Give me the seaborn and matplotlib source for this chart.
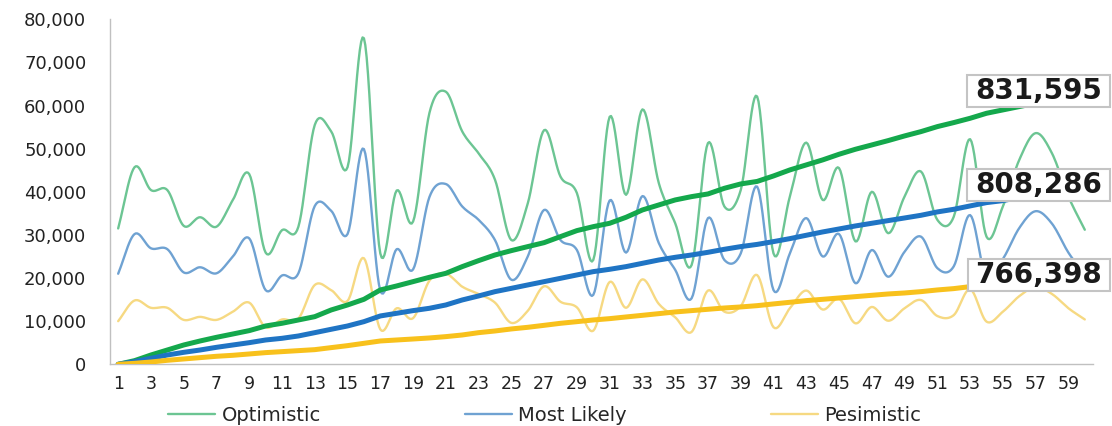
import numpy as np
import pandas as pd
import seaborn as sns
import matplotlib.pyplot as plt
from matplotlib.patches import Rectangle
from matplotlib.transforms import IdentityTransform
from matplotlib.ticker import FuncFormatter, FixedLocator

# Данные
periods = list(range(1, 61))

optimistic = [31500, 45700, 40400, 40400, 32100, 34100, 31900, 38100, 44100, 25900,
              31100, 31900, 55500, 54000, 45700, 75600, 25700, 40300, 33100, 58300,
              63200, 54000, 48900, 42800, 28800, 37300, 54300, 43500, 39700, 24200,
              57400, 39300, 59100, 42000, 32700, 23000, 51300, 36600, 40400, 62100,
              25700, 38900, 51400, 38100, 45500, 28500, 40000, 30400, 38900, 44700,
              33500, 34200, 52200, 29600, 36600, 47400, 53600, 48900, 38900, 31200]

most_likely = [21000, 30200, 26900, 26700, 21300, 22500, 21100, 25000, 29200, 17200,
               20600, 21100, 36700, 35600, 30200, 49900, 17100, 26700, 22000, 38800,
               41800, 36600, 33500, 28800, 19600, 25000, 35800, 28800, 26500, 16100,
               38000, 25900, 39000, 28100, 21900, 15300, 33900, 24200, 25700, 41200,
               17200, 25700, 33900, 25000, 30200, 18800, 26500, 20300, 26100, 29600,
               22300, 22700, 34600, 19900, 24400, 31600, 35500, 32600, 25900, 20800]

pesimistic = [10000, 14800, 13100, 13100, 10300, 11000, 10300, 12200, 14300, 8600,
              10400, 10600, 18400, 17200, 14700, 24600, 8100, 13000, 10700, 19400,
              21000, 18000, 16300, 14300, 9600, 12400, 18100, 14500, 13200, 7800,
              19100, 13100, 19700, 14000, 10900, 7500, 17100, 12200, 13500, 20700,
              8600, 13000, 17100, 12700, 15200, 9500, 13300, 10100, 13000, 14900,
              11200, 11400, 17400, 9900, 12200, 15800, 17900, 16300, 13000, 10400]

optimistic_trend = [0, 850, 2160, 3320, 4480, 5410, 6260, 7030, 7810, 8890,
                    9510, 10280, 11050, 12600, 13760, 15070, 17240, 18170, 19170, 20180,
                    21100, 22650, 24040, 25350, 26360, 27290, 28210, 29610, 31000, 31920,
                    32700, 34090, 35790, 36950, 38110, 38880, 39500, 40810, 41820, 42400,
                    43670, 45070, 46230, 47390, 48700, 49860, 50860, 51870, 52950, 53950,
                    55110, 56040, 57040, 58200, 58980, 59750, 60530, 61500, 62400, 63300]

most_likely_trend = [0, 620, 1390, 2160, 2780, 3320, 3940, 4480, 5020, 5640,
                     6030, 6570, 7340, 8120, 8890, 9890, 11210, 11830, 12450, 12990,
                     13760, 14920, 15850, 16850, 17620, 18400, 19170, 19940, 20720, 21490,
                     22030, 22650, 23420, 24190, 24810, 25350, 25970, 26670, 27290, 27800,
                     28450, 29140, 29920, 30690, 31380, 32080, 32700, 33320, 33930, 34550,
                     35330, 35940, 36720, 37490, 37950, 38700, 39400, 40100, 40800, 41500]

pesimistic_trend = [0, 230, 540, 930, 1240, 1550, 1860, 2090, 2400, 2710,
                    2940, 3170, 3400, 3870, 4330, 4870, 5410, 5640, 5870, 6110,
                    6420, 6800, 7340, 7730, 8200, 8580, 9040, 9510, 9890, 10280,
                    10590, 10980, 11360, 11750, 12140, 12450, 12760, 13060, 13300, 13600,
                    14000, 14380, 14770, 15070, 15380, 15690, 16000, 16310, 16540, 16850,
                    17240, 17550, 18010, 18400, 18800, 19200, 19600, 20000, 20400, 20800]

series_names = ['Optimistic', 'Most Likely', 'Pesimistic']
totals = ['831,595', '808,286', '766,398']

thin_colors = ['#6cc593', '#6fa2d2', '#f6d982']
thick_colors = ['#14a84c', '#1f74c4', '#f8c11c']


def smooth(x, y, n=12):
    # сглаживание как в Excel (Catmull-Rom) — только для отрисовки
    x = np.asarray(x, float)
    y = np.asarray(y, float)
    px = np.concatenate([[2 * x[0] - x[1]], x, [2 * x[-1] - x[-2]]])
    py = np.concatenate([[2 * y[0] - y[1]], y, [2 * y[-1] - y[-2]]])
    t = np.linspace(0, 1, n, endpoint=False)[:, None]
    xs, ys = [], []
    for arr, out in ((px, xs), (py, ys)):
        p0, p1, p2, p3 = arr[:-3], arr[1:-2], arr[2:-1], arr[3:]
        seg = 0.5 * (2 * p1 + (-p0 + p2) * t + (2 * p0 - 5 * p1 + 4 * p2 - p3) * t ** 2
                     + (-p0 + 3 * p1 - 3 * p2 + p3) * t ** 3)
        out.extend(seg.T.ravel())
        out.append(arr[-2])
    return np.array(xs), np.array(ys)


sns.set_style('white')
plt.rcParams['font.family'] = ['DejaVu Sans']

fig = plt.figure(figsize=(11.12, 4.26), dpi=100)
ax = fig.add_axes([0.0989, 0.1448, 0.884, 0.81])

# Тонкие сглаженные линии
for name, vals, col in zip(series_names, [optimistic, most_likely, pesimistic], thin_colors):
    sx, sy = smooth(periods, vals)
    sns.lineplot(x=sx, y=sy, ax=ax, color=col, linewidth=1.7, sort=False,
                 estimator=None, label=name, zorder=2)

# Толстые линии тренда
for vals, col in zip([optimistic_trend, most_likely_trend, pesimistic_trend], thick_colors):
    sns.lineplot(x=periods, y=vals, ax=ax, color=col, linewidth=3.6, sort=False,
                 estimator=None, zorder=3)

if ax.get_legend() is not None:
    ax.get_legend().remove()

ax.set_xlim(0.5, 60.5)
ax.set_ylim(0, 80000)
ax.set_xlabel('')
ax.set_ylabel('')

ax.xaxis.set_major_locator(FixedLocator(periods[::2]))
ax.xaxis.set_minor_locator(FixedLocator(np.arange(0.5, 61, 1)))
ax.set_yticks(range(0, 80001, 10000))
ax.yaxis.set_major_formatter(FuncFormatter(lambda v, p: f'{v:,.0f}'))

ax.tick_params(axis='x', which='major', length=0, pad=8, labelsize=12.5, labelcolor='#222222')
ax.tick_params(axis='x', which='minor', length=5, color='#c0c0c0', width=1)
ax.tick_params(axis='y', length=5, color='#c0c0c0', width=1, pad=12,
               labelsize=13, labelcolor='#222222')

for side in ['top', 'right']:
    ax.spines[side].set_visible(False)
for side in ['left', 'bottom']:
    ax.spines[side].set_color('#c0c0c0')
    ax.spines[side].set_linewidth(1)

# Подписи итогов
label_texts = []
for total, vals in zip(totals, [optimistic_trend, most_likely_trend, pesimistic_trend]):
    t = ax.text(57.2, vals[-1], total, ha='center', va='center', fontsize=20,
                fontweight='bold', color='#1a1a1a', zorder=10, clip_on=False)
    label_texts.append(t)

fig.canvas.draw()
renderer = fig.canvas.get_renderer()
for t in label_texts:
    bb = t.get_window_extent(renderer)
    cy = (bb.y0 + bb.y1) / 2
    rect = Rectangle((bb.x0 - 8, cy - 16), bb.width + 16, 32, transform=IdentityTransform(),
                     facecolor='white', edgecolor='#c4c4c4', linewidth=1.5, zorder=9)
    fig.add_artist(rect)
    t.set_zorder(11)
    t.remove()
    fig.add_artist(t)

# Легенда снизу
handles, labels = ax.get_legend_handles_labels()
fig.legend(handles[:3], labels[:3], loc='center', bbox_to_anchor=(0.490, 0.025), ncol=3,
           frameon=False, fontsize=14, handlelength=2.4, columnspacing=7.4, handletextpad=0.35)

fig.savefig('out.png', dpi=100)
